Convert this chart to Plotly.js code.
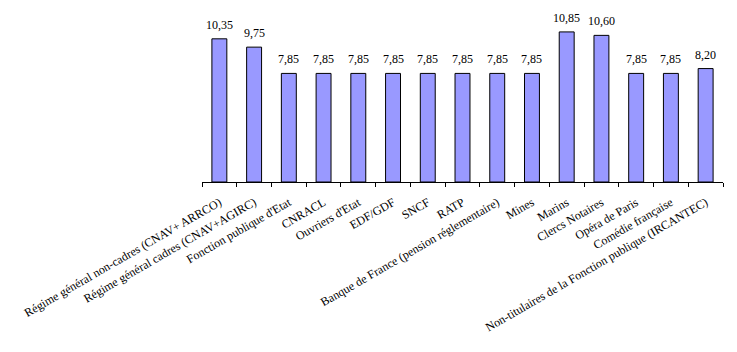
<!DOCTYPE html>
<html><head><meta charset="utf-8">
<script src="https://cdn.plot.ly/plotly-3.0.1.min.js"></script>
<style>html,body{margin:0;padding:0;background:#fff}#chart{width:737px;height:352px}</style>
</head><body><div id="chart"></div>
<script>
const categories = [
  "Régime général non-cadres (CNAV+ ARRCO)",
  "Régime général cadres (CNAV+AGIRC)",
  "Fonction publique d'Etat",
  "CNRACL",
  "Ouvriers d'Etat",
  "EDF/GDF",
  "SNCF",
  "RATP",
  "Banque de France (pension réglementaire)",
  "Mines",
  "Marins",
  "Clercs Notaires",
  "Opéra de Paris",
  "Comédie française",
  "Non-titulaires de la Fonction publique (IRCANTEC)"
];
const values = [10.35, 9.75, 7.85, 7.85, 7.85, 7.85, 7.85, 7.85, 7.85, 7.85, 10.85, 10.60, 7.85, 7.85, 8.20];

const labels = values.map(v => v.toFixed(2).replace('.', ','));
const font = "'Liberation Serif', 'Times New Roman', serif";

const trace = {
  type: 'bar', x: categories, y: values,
  marker: {color: '#9999FF', line: {color: '#000', width: 1}},
  hoverinfo: 'none'
};
const annotations = categories.map((c, i) => ({
  x: c, y: values[i], text: labels[i], showarrow: false,
  xanchor: 'center', yanchor: 'bottom', yshift: 5,
  font: {family: font, size: 12, color: '#000'}
}));
const layout = {
  width: 737, height: 352,
  margin: {l: 202, r: 14, t: 16, b: 170},
  paper_bgcolor: '#fff', plot_bgcolor: '#fff',
  showlegend: false, bargap: 0.57,
  font: {family: font, size: 12, color: '#000'},
  xaxis: {
    type: 'category', showline: true, linecolor: '#000', linewidth: 1,
    ticks: 'outside', tickson: 'boundaries', ticklen: 4, tickcolor: '#000',
    tickangle: -30, ticklabelstandoff: 8,
    tickfont: {family: font, size: 12, color: '#000'},
    showgrid: false, automargin: false, fixedrange: true
  },
  yaxis: {visible: false, range: [0, 12], showgrid: false, zeroline: false, fixedrange: true},
  annotations: annotations
};
Plotly.newPlot('chart', [trace], layout, {staticPlot: true});
</script></body></html>
